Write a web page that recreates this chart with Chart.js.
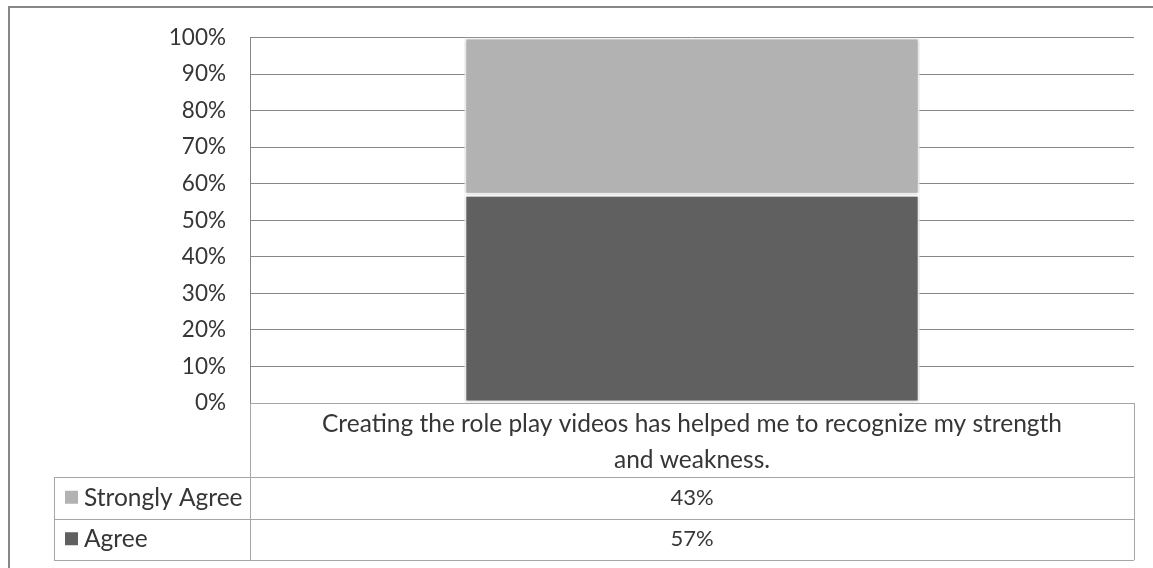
<!DOCTYPE html>
<html>
<head>
<meta charset="utf-8">
<script src="https://cdn.jsdelivr.net/npm/chart.js@4"></script>
<style>
  body { margin: 0; background: #fff; }
  #wrap { width: 1153px; height: 568px; }
</style>
</head>
<body>
<div id="wrap"><canvas id="chart"></canvas></div>
<script>
// data
const categoryLines = [['Creating the role play videos has helped me to recognize my strength', 'and weakness.']];
const seriesNames = ['Agree', 'Strongly Agree'];
const agree = [57];
const stronglyAgree = [43];
const seriesColors = ['#606060', '#b2b2b2'];
const yMax = 100;
const yStep = 10;

const FONT = 'Lato';
const TEXT = '#363636';
const LINE = '#a6a6a6';

// data table under the plot (rows listed top to bottom)
const tableRows = [
    { name: seriesNames[1], color: seriesColors[1], values: stronglyAgree },
    { name: seriesNames[0], color: seriesColors[0], values: agree }
];

const frame = {
    id: 'frame',
    beforeDraw(chart) {
        const ctx = chart.ctx;
        ctx.save();
        ctx.fillStyle = '#fff';
        ctx.fillRect(0, 0, chart.width, chart.height);
        ctx.strokeStyle = '#878787';
        ctx.lineWidth = 2;
        ctx.strokeRect(9, 7, chart.width + 20, chart.height + 20);
        ctx.restore();
    }
};

const barShadow = {
    id: 'barShadow',
    beforeDatasetsDraw(chart) {
        chart.ctx.save();
        chart.ctx.shadowColor = 'rgba(0,0,0,0.22)';
        chart.ctx.shadowBlur = 4;
    },
    afterDatasetsDraw(chart) {
        chart.ctx.restore();
    }
};

const dataTable = {
    id: 'dataTable',
    afterDraw(chart) {
        const ctx = chart.ctx;
        const xs = chart.scales.x;
        const area = chart.chartArea;
        const tableLeft = 54;
        const catRowH = 74;
        const rowH = 41.5;
        const top = area.bottom + catRowH;
        const bottom = top + rowH * tableRows.length;

        ctx.save();
        ctx.strokeStyle = LINE;
        ctx.lineWidth = 1;
        ctx.beginPath();
        // row lines
        for (let i = 0; i <= tableRows.length; i++) {
            const y = Math.round(top + rowH * i) + 0.5;
            ctx.moveTo(tableLeft, y);
            ctx.lineTo(xs.right, y);
        }
        // column lines
        ctx.moveTo(tableLeft + 0.5, top);
        ctx.lineTo(tableLeft + 0.5, bottom);
        ctx.moveTo(xs.left + 0.5, area.bottom);
        ctx.lineTo(xs.left + 0.5, bottom);
        ctx.moveTo(xs.right + 0.5, area.bottom);
        ctx.lineTo(xs.right + 0.5, bottom);
        ctx.stroke();

        ctx.textBaseline = 'middle';
        tableRows.forEach((row, i) => {
            const cy = top + rowH * i + rowH / 2;
            ctx.fillStyle = row.color;
            ctx.fillRect(tableLeft + 11, cy - 7, 13, 13);
            ctx.fillStyle = TEXT;
            ctx.textAlign = 'left';
            ctx.font = '24.5px ' + FONT;
            ctx.fillText(row.name, tableLeft + 30, cy);
            ctx.textAlign = 'center';
            ctx.font = '22px ' + FONT;
            row.values.forEach((v, j) => {
                ctx.fillText(v + '%', xs.getPixelForValue(j), cy);
            });
        });
        ctx.restore();
    }
};

new Chart(document.getElementById('chart'), {
    type: 'bar',
    data: {
        labels: categoryLines,
        datasets: [
            {
                label: seriesNames[0],
                data: agree,
                backgroundColor: seriesColors[0],
                borderColor: '#ffffff',
                borderWidth: 2,
                borderSkipped: false
            },
            {
                label: seriesNames[1],
                data: stronglyAgree,
                backgroundColor: seriesColors[1],
                borderColor: '#ffffff',
                borderWidth: 2,
                borderSkipped: false
            }
        ]
    },
    options: {
        responsive: true,
        maintainAspectRatio: false,
        animation: false,
        layout: { padding: { top: 37, left: 0, right: 19, bottom: 0 } },
        plugins: {
            legend: { display: false },
            tooltip: { enabled: false }
        },
        datasets: {
            bar: { barPercentage: 0.515, categoryPercentage: 1 }
        },
        scales: {
            x: {
                stacked: true,
                grid: { display: false, drawTicks: false },
                border: { display: true, color: LINE, width: 1 },
                ticks: {
                    color: TEXT,
                    padding: 3,
                    maxRotation: 0,
                    autoSkip: false,
                    font: { family: FONT, size: 24.5, lineHeight: '36px' }
                },
                afterFit: (s) => { s.height = 165; }
            },
            y: {
                stacked: true,
                min: 0,
                max: yMax,
                grid: { color: '#868686', drawTicks: false },
                border: { display: true, color: '#868686' },
                ticks: {
                    stepSize: yStep,
                    color: TEXT,
                    padding: 24,
                    font: { family: FONT, size: 22.5 },
                    callback: (v) => v + '%'
                },
                afterFit: (s) => { s.width = 250; }
            }
        }
    },
    plugins: [frame, barShadow, dataTable]
});
</script>
</body>
</html>
